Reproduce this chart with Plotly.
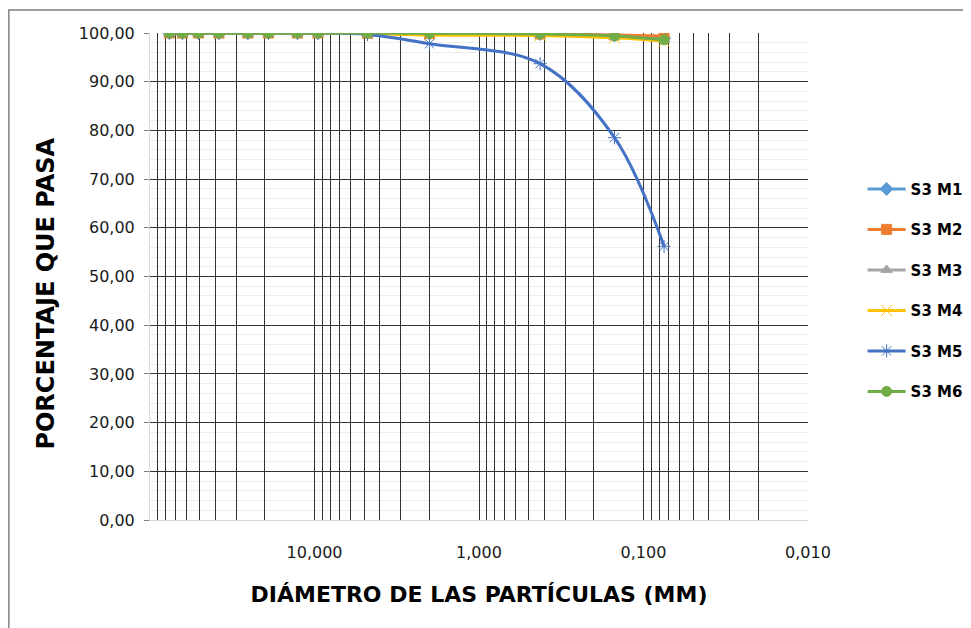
"""Curva granulométrica S3 M1-M6 (porcentaje que pasa vs diámetro)."""

import plotly.graph_objects as go

# tamices (mm)
diametros = [76.2, 63.5, 50.8, 38.1, 25.4, 19.05, 12.7, 9.525, 4.76, 2.0, 0.425, 0.15, 0.075]

s3_m1 = [100, 100, 100, 100, 100, 100, 100, 100, 100, 99.9, 99.8, 99.5, 99.0]
s3_m2 = [100, 100, 100, 100, 100, 100, 100, 100, 100, 99.9, 99.8, 99.6, 99.4]
s3_m3 = [100, 100, 100, 100, 100, 100, 100, 100, 100, 99.9, 99.7, 99.2, 98.6]
s3_m4 = [100, 100, 100, 100, 100, 100, 100, 100, 99.9, 99.6, 99.5, 99.0, 98.3]
s3_m5 = [100, 100, 100, 100, 100, 100, 100, 100, 99.7, 97.8, 93.7, 78.5, 56.2]
s3_m6 = [100, 100, 100, 100, 100, 100, 100, 100, 100, 99.9, 99.8, 99.4, 98.6]

series = [
    ("S3 M1", s3_m1, "#5B9BD5", "diamond"),
    ("S3 M2", s3_m2, "#ED7D31", "square"),
    ("S3 M3", s3_m3, "#A5A5A5", "triangle-up"),
    ("S3 M4", s3_m4, "#FFC000", "x-thin-open"),
    ("S3 M5", s3_m5, "#4472C4", "asterisk-open"),
    ("S3 M6", s3_m6, "#70AD47", "circle"),
]

# grid del eje log: 1..9 por década, etiqueta solo en la década
x_ticks = [k * 10.0 ** e for e in range(-2, 2) for k in range(1, 10)] + [100.0]
x_text = [f"{k * 10.0 ** e:.3f}".replace(".", ",") if k == 1 else ""
          for e in range(-2, 2) for k in range(1, 10)] + [""]

fig = go.Figure()
for i, (name, vals, color, symbol) in enumerate(series):
    open_sym = symbol.endswith("open")
    fig.add_trace(
        go.Scatter(
            x=diametros,
            y=vals,
            name=name,
            mode="lines+markers",
            line=dict(color=color, width=3, shape="spline", smoothing=1),
            marker=dict(
                symbol=symbol,
                size=11 if open_sym else 10,
                color=color,
                line=dict(color=color, width=1),
            ),
            legendgroup=f"g{i}",
        )
    )

# la página tiene 8px de margen en body: figura 963x620
fig.update_layout(
    width=963,
    height=620,
    paper_bgcolor="white",
    plot_bgcolor="white",
    separators=",.",
    margin=dict(l=142, r=163, t=25, b=108, autoexpand=False),
    font=dict(family="DejaVu Sans", size=16, color="#1a1a1a"),
    showlegend=True,
    legend=dict(
        x=1.083,
        xanchor="left",
        y=0.472,
        yanchor="middle",
        font=dict(size=15, color="#000000", family="DejaVu Sans", weight="bold"),
        tracegroupgap=18,
        itemwidth=38,
        bgcolor="rgba(0,0,0,0)",
    ),
    shapes=[
        dict(
            type="rect",
            xref="paper",
            yref="paper",
            x0=-0.2145,
            x1=1.5,
            y0=-0.5,
            y1=1.047,
            line=dict(color="#7f7f7f", width=1.5),
            layer="below",
        )
    ],
    annotations=[
        dict(
            text="<b>PORCENTAJE QUE PASA</b>",
            xref="paper",
            yref="paper",
            x=-0.183,
            y=0.464,
            textangle=-90,
            showarrow=False,
            font=dict(size=24, color="#000000"),
        )
    ],
)

fig.update_xaxes(
    type="log",
    range=[2, -2],
    tickvals=x_ticks,
    ticktext=x_text,
    showgrid=True,
    gridcolor="#333333",
    gridwidth=1,
    showline=True,
    linecolor="#d9d9d9",
    ticks="",
    zeroline=False,
    ticklabelstandoff=18,
    title=dict(
        text="<b>DIÁMETRO DE LAS PARTÍCULAS (MM)</b>",
        font=dict(size=22, color="#000000"),
        standoff=25,
    ),
)

fig.update_yaxes(
    range=[0, 100],
    dtick=10,
    tickformat=".2f",
    showgrid=True,
    gridcolor="#333333",
    gridwidth=1,
    showline=True,
    linecolor="#d9d9d9",
    ticks="outside",
    ticklen=5,
    tickcolor="#808080",
    ticklabelstandoff=6,
    zeroline=False,
    minor=dict(dtick=2, showgrid=True, gridcolor="#ededed", ticks=""),
)

fig.write_html("out.html")
